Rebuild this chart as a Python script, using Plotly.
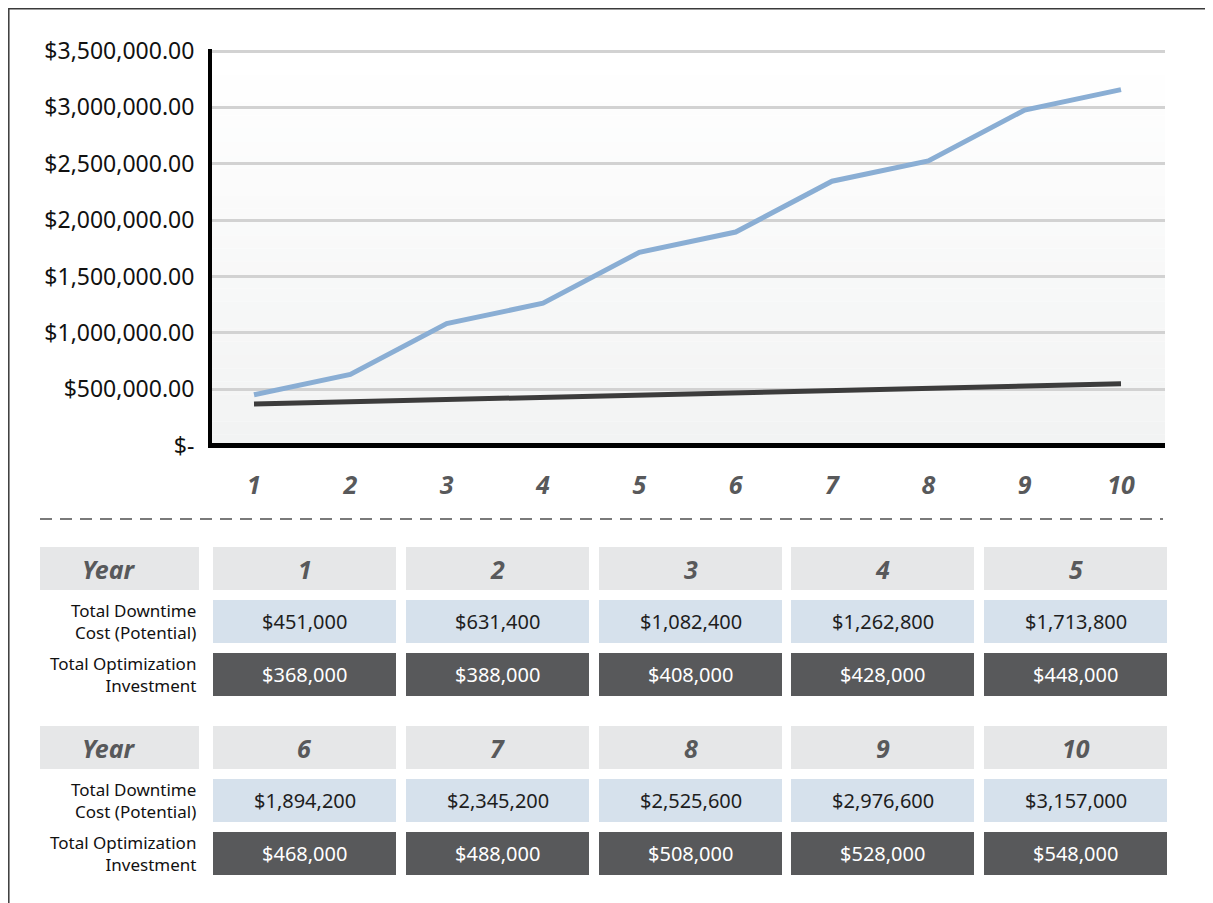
import plotly.graph_objects as go

# ---------------- data ----------------
years = [1, 2, 3, 4, 5, 6, 7, 8, 9, 10]
downtime_cost = [451000, 631400, 1082400, 1262800, 1713800,
                 1894200, 2345200, 2525600, 2976600, 3157000]
optimization_investment = [368000, 388000, 408000, 428000, 448000,
                           468000, 488000, 508000, 528000, 548000]
y_tickvals = [0, 500000, 1000000, 1500000, 2000000, 2500000, 3000000, 3500000]
y_ticktext = ["$-", "$500,000.00", "$1,000,000.00", "$1,500,000.00",
              "$2,000,000.00", "$2,500,000.00", "$3,000,000.00", "$3,500,000.00"]
row_labels = ["Year", "Total Downtime<br>Cost (Potential)", "Total Optimization<br>Investment"]

# ---------------- styling ----------------
OFF = 8                      # page body margin of the browser
W, H = 1213 - OFF, 903 - OFF  # figure fits the viewport exactly
FONT = "Noto Sans"
BLUE = "#8aaed4"
DARK = "#3c3c3c"
HEAD_BG = "#e6e7e8"
LIGHT_BG = "#d6e1ec"
DARK_BG = "#58595b"
GRAY_TXT = "#58595b"


def px(x):
    # screen pixel -> paper
    return (x - OFF) / W


def py(y):
    return 1 - (y - OFF) / H


fig = go.Figure()
fig.add_trace(go.Scatter(x=years, y=downtime_cost, mode="lines",
                         line=dict(color=BLUE, width=5), name="Total Downtime Cost (Potential)"))
fig.add_trace(go.Scatter(x=years, y=optimization_investment, mode="lines",
                         line=dict(color=DARK, width=5), name="Total Optimization Investment"))

shapes = []
annotations = []

# plot area screen-pixel bounds
PL, PR, PT, PB = 212, 1165, 49, 448

# gradient background for plot area
nb = 30
for i in range(nb):
    t = i / (nb - 1)
    c = int(round(255 - t * (255 - 242)))
    c2 = int(round(255 - t * (255 - 243)))
    y0 = PT + (PB - PT) * i / nb
    y1 = PT + (PB - PT) * (i + 1) / nb
    shapes.append(dict(type="rect", xref="paper", yref="paper",
                       x0=px(PL), x1=px(PR), y0=py(y1), y1=py(y0),
                       fillcolor=f"rgb({c},{c2},{c2})", line=dict(width=0), layer="below"))

# outer border
shapes.append(dict(type="rect", xref="paper", yref="paper",
                   x0=px(OFF + 0.8), x1=px(1207), y0=py(930), y1=py(OFF + 0.8),
                   line=dict(color="#3a3a3a", width=1.5), fillcolor="rgba(0,0,0,0)", layer="above"))

# dashed separator
shapes.append(dict(type="line", xref="paper", yref="paper",
                   x0=px(40), x1=px(1163), y0=py(519), y1=py(519),
                   line=dict(color="#7a7a7a", width=1.8, dash="12px,8px")))

# table
col_x0 = [213, 406, 599, 791, 984]
col_w = 183
blocks = [
    dict(head=(547, 590), down=(600, 643), inv=(653, 696), idx=range(0, 5)),
    dict(head=(726, 769), down=(779, 822), inv=(832, 875), idx=range(5, 10)),
]
for b in blocks:
    shapes.append(dict(type="rect", xref="paper", yref="paper",
                       x0=px(40), x1=px(199), y0=py(b["head"][1]), y1=py(b["head"][0]),
                       fillcolor=HEAD_BG, line=dict(width=0)))
    annotations.append(dict(x=px(109), y=py((b["head"][0] + b["head"][1]) / 2),
                            xref="paper", yref="paper", text=row_labels[0], showarrow=False,
                            xanchor="center", yanchor="middle",
                            font=dict(family=FONT, size=25, color=GRAY_TXT, weight="bold", style="italic")))
    annotations.append(dict(x=px(198), y=py((b["down"][0] + b["down"][1]) / 2),
                            xref="paper", yref="paper", text=row_labels[1], showarrow=False,
                            xanchor="right", yanchor="middle", align="right",
                            font=dict(family=FONT, size=17, color="#111111")))
    annotations.append(dict(x=px(198), y=py((b["inv"][0] + b["inv"][1]) / 2),
                            xref="paper", yref="paper", text=row_labels[2], showarrow=False,
                            xanchor="right", yanchor="middle", align="right",
                            font=dict(family=FONT, size=17, color="#111111")))
    for j, k in enumerate(b["idx"]):
        x0 = col_x0[j]
        x1 = x0 + col_w
        xc = (x0 + x1) / 2
        for (rng, bg) in ((b["head"], HEAD_BG), (b["down"], LIGHT_BG), (b["inv"], DARK_BG)):
            shapes.append(dict(type="rect", xref="paper", yref="paper",
                               x0=px(x0), x1=px(x1), y0=py(rng[1]), y1=py(rng[0]),
                               fillcolor=bg, line=dict(width=0)))
        annotations.append(dict(x=px(xc), y=py((b["head"][0] + b["head"][1]) / 2),
                                xref="paper", yref="paper", text=str(years[k]), showarrow=False,
                                xanchor="center", yanchor="middle",
                                font=dict(family=FONT, size=25, color=GRAY_TXT, weight="bold", style="italic")))
        annotations.append(dict(x=px(xc), y=py((b["down"][0] + b["down"][1]) / 2),
                                xref="paper", yref="paper", text=f"${downtime_cost[k]:,}", showarrow=False,
                                xanchor="center", yanchor="middle",
                                font=dict(family=FONT, size=20, color="#1e1e1e")))
        annotations.append(dict(x=px(xc), y=py((b["inv"][0] + b["inv"][1]) / 2),
                                xref="paper", yref="paper", text=f"${optimization_investment[k]:,}", showarrow=False,
                                xanchor="center", yanchor="middle",
                                font=dict(family=FONT, size=20, color="#ffffff")))

scale = (445.6 - 51) / 3500000.0
y_min = -(PB - 445.6) / scale
y_max = 3500000 + (51 - PT) / scale
x_unit = (1121 - 254) / 9
x_min = 1 - (254 - PL) / x_unit
x_max = 10 + (PR - 1121) / x_unit

fig.update_layout(
    width=W, height=H,
    margin=dict(l=0, r=0, t=0, b=0, pad=0, autoexpand=False),
    paper_bgcolor="white",
    plot_bgcolor="rgba(0,0,0,0)",
    showlegend=False,
    shapes=shapes,
    annotations=annotations,
    xaxis=dict(domain=[px(PL), px(PR)], range=[x_min, x_max], automargin=False,
               tickvals=years, ticktext=[str(y) for y in years],
               showgrid=False, zeroline=False, showline=False, ticks="",
               ticklabelstandoff=20,
               tickfont=dict(family=FONT, size=25, color=GRAY_TXT, weight="bold", style="italic")),
    yaxis=dict(domain=[py(PB), py(PT)], range=[y_min, y_max], automargin=False,
               tickvals=y_tickvals, ticktext=y_ticktext,
               showgrid=True, gridcolor="#d2d2d2", gridwidth=3,
               zeroline=True, zerolinecolor="#000000", zerolinewidth=5,
               showline=True, linecolor="#000000", linewidth=4,
               ticks="", ticklabelstandoff=9,
               tickfont=dict(family=FONT, size=23, color="#111111")),
)

fig.write_html("out.html")
